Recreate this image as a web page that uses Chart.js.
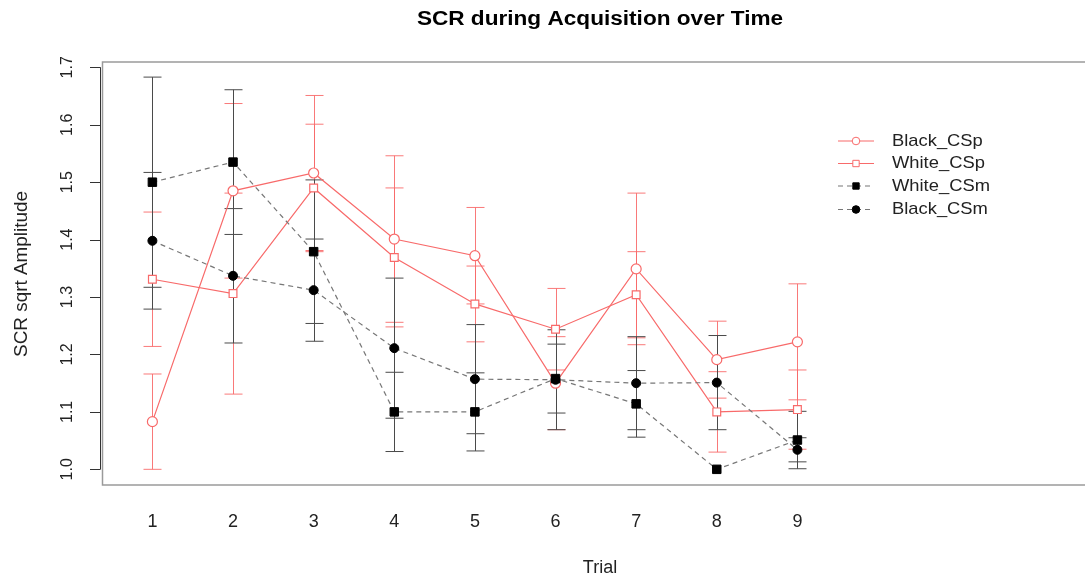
<!DOCTYPE html>
<html lang="en">
<head>
    <meta charset="UTF-8">
    <title>SCR during Acquisition over Time</title>
    <script src="https://cdn.jsdelivr.net/npm/chart.js"></script>
    <style>
        body { margin: 0; background: #fff; }
        #wrap { width: 1085px; height: 577px; }
    </style>
</head>
<body>
    <div id="wrap"><canvas id="myChart"></canvas></div>

    <script>
        const trials = [1, 2, 3, 4, 5, 6, 7, 8, 9];
        const yTicks = [1.0, 1.1, 1.2, 1.3, 1.4, 1.5, 1.6, 1.7];

        const blackCSp    = [1.083, 1.485, 1.516, 1.401, 1.372, 1.150, 1.349, 1.191, 1.222];
        const blackCSpErr = [0.083, 0.152, 0.135, 0.145, 0.084, 0.081, 0.132, 0.067, 0.101];
        const whiteCSp    = [1.331, 1.306, 1.490, 1.369, 1.288, 1.244, 1.304, 1.100, 1.104];
        const whiteCSpErr = [0.117, 0.175, 0.111, 0.121, 0.066, 0.071, 0.075, 0.070, 0.069];
        const whiteCSm    = [1.500, 1.535, 1.379, 1.100, 1.100, 1.158, 1.114, 1.000, 1.051];
        const whiteCSmErr = [0.183, 0.126, 0.125, 0.069, 0.068, 0.060, 0.058, 0.000, 0.050];
        const blackCSm    = [1.398, 1.337, 1.312, 1.211, 1.157, 1.156, 1.150, 1.151, 1.034];
        const blackCSmErr = [0.119, 0.117, 0.089, 0.122, 0.095, 0.087, 0.081, 0.082, 0.021];

        const RED = "#f86a6a";
        const RED_BAR = "rgba(248, 106, 106, 0.9)";
        const DARK_BAR = "#4a4a4a";
        const FONT = "'Liberation Sans', Arial, sans-serif";

        const toPts = arr => trials.map((t, i) => ({ x: t, y: arr[i] }));

        const datasets = [
            {
                label: "Black_CSp", data: toPts(blackCSp), err: blackCSpErr, barColor: RED_BAR,
                borderColor: RED, borderWidth: 1.2, pointStyle: "circle", pointRadius: 5,
                pointBackgroundColor: "#fff", pointBorderColor: RED, pointBorderWidth: 1.2, order: 2
            },
            {
                label: "White_CSp", data: toPts(whiteCSp), err: whiteCSpErr, barColor: RED_BAR,
                borderColor: RED, borderWidth: 1.2, pointStyle: "rect", pointRadius: 5.5,
                pointBackgroundColor: "#fff", pointBorderColor: RED, pointBorderWidth: 1.2, order: 2
            },
            {
                label: "White_CSm", data: toPts(whiteCSm), err: whiteCSmErr, barColor: DARK_BAR,
                borderColor: "#777", borderWidth: 1.2, borderDash: [5, 4], pointStyle: "rect", pointRadius: 6,
                pointBackgroundColor: "#000", pointBorderColor: "#000", pointBorderWidth: 1, order: 1
            },
            {
                label: "Black_CSm", data: toPts(blackCSm), err: blackCSmErr, barColor: DARK_BAR,
                borderColor: "#777", borderWidth: 1.2, borderDash: [5, 4], pointStyle: "circle", pointRadius: 4.5,
                pointBackgroundColor: "#000", pointBorderColor: "#000", pointBorderWidth: 1, order: 1
            }
        ];

        // text drawn a little wider than the font, like the stretched R export
        function wideText(ctx, text, x, y, sx) {
            ctx.save();
            ctx.translate(x, y);
            ctx.scale(sx, 1);
            ctx.fillText(text, 0, 0);
            ctx.restore();
        }

        // error bars, box, axes, legend and titles drawn in R base-graphics style
        const rStyle = {
            id: "rStyle",
            beforeDatasetsDraw(chart) {
                const ctx = chart.ctx, xs = chart.scales.x, ys = chart.scales.y;
                ctx.save();
                chart.data.datasets.forEach(ds => {
                    ctx.strokeStyle = ds.barColor;
                    ctx.lineWidth = 1;
                    ds.data.forEach((p, i) => {
                        const e = ds.err[i];
                        if (!e) return;
                        const x = Math.round(xs.getPixelForValue(p.x)) + 0.5;
                        const top = ys.getPixelForValue(p.y + e);
                        const bot = ys.getPixelForValue(p.y - e);
                        ctx.beginPath();
                        ctx.moveTo(x, top); ctx.lineTo(x, bot);
                        ctx.moveTo(x - 9, top); ctx.lineTo(x + 9, top);
                        ctx.moveTo(x - 9, bot); ctx.lineTo(x + 9, bot);
                        ctx.stroke();
                    });
                });
                ctx.restore();
            },
            afterDraw(chart) {
                const ctx = chart.ctx, xs = chart.scales.x, ys = chart.scales.y;
                const a = chart.chartArea;
                ctx.save();
                // box
                ctx.strokeStyle = "#9a9a9a";
                ctx.lineWidth = 1.5;
                ctx.strokeRect(a.left + 0.5, a.top, a.right - a.left + 10, a.bottom - a.top);

                // y axis
                ctx.strokeStyle = "#333";
                ctx.lineWidth = 1;
                const yTop = ys.getPixelForValue(yTicks[yTicks.length - 1]);
                const yBot = ys.getPixelForValue(yTicks[0]);
                ctx.beginPath();
                ctx.moveTo(100.5, yTop); ctx.lineTo(100.5, yBot);
                yTicks.forEach(v => {
                    const y = Math.round(ys.getPixelForValue(v)) + 0.5;
                    ctx.moveTo(90, y); ctx.lineTo(100.5, y);
                });
                ctx.stroke();

                ctx.fillStyle = "#222";
                ctx.font = "16px " + FONT;
                ctx.textAlign = "center";
                ctx.textBaseline = "middle";
                yTicks.forEach(v => {
                    const y = ys.getPixelForValue(v);
                    ctx.save();
                    ctx.translate(68, y);
                    ctx.rotate(-Math.PI / 2);
                    ctx.fillText(v.toFixed(1), 0, 0);
                    ctx.restore();
                });

                // x tick labels
                ctx.font = "18px " + FONT;
                trials.forEach(t => {
                    ctx.fillText(String(t), xs.getPixelForValue(t), 522);
                });

                // axis titles
                ctx.fillText("Trial", 600, 568);
                ctx.save();
                ctx.translate(22, 274);
                ctx.rotate(-Math.PI / 2);
                ctx.font = "18px " + FONT;
                wideText(ctx, "SCR sqrt Amplitude", 0, 0, 1.05);
                ctx.restore();

                // main title
                ctx.fillStyle = "#000";
                ctx.font = "bold 20px " + FONT;
                wideText(ctx, "SCR during Acquisition over Time", 600, 19, 1.13);

                // legend
                const rows = [141, 163.5, 186, 209.5];
                chart.data.datasets.forEach((ds, i) => {
                    const y = rows[i];
                    ctx.strokeStyle = ds.borderColor;
                    ctx.lineWidth = 1.2;
                    ctx.setLineDash(ds.borderDash || []);
                    ctx.beginPath();
                    ctx.moveTo(838, y); ctx.lineTo(874, y);
                    ctx.stroke();
                    ctx.setLineDash([]);
                    ctx.fillStyle = ds.pointBackgroundColor;
                    ctx.strokeStyle = ds.pointBorderColor;
                    ctx.lineWidth = 1;
                    Chart.helpers.drawPoint(ctx, {
                        pointStyle: ds.pointStyle,
                        radius: ds.pointStyle === "rect" ? 4.5 : 3.8,
                        borderWidth: 1
                    }, 856, y);
                    ctx.fillStyle = "#222";
                    ctx.font = "17px " + FONT;
                    ctx.textAlign = "left";
                    wideText(ctx, ds.label, 892, y, 1.08);
                });
                ctx.restore();
            }
        };

        new Chart(document.getElementById("myChart"), {
            type: "line",
            data: { datasets: datasets },
            options: {
                responsive: true,
                maintainAspectRatio: false,
                animation: false,
                layout: { padding: { top: 62, right: 0, left: 0, bottom: 0 } },
                plugins: {
                    legend: { display: false },
                    title: { display: false },
                    tooltip: { enabled: false }
                },
                scales: {
                    x: {
                        type: "linear",
                        min: 0.375,
                        max: 12.48,
                        grid: { display: false },
                        border: { display: false },
                        ticks: { display: false },
                        afterFit(scale) { scale.height = 92; }
                    },
                    y: {
                        type: "linear",
                        min: 0.9727,
                        max: 1.7093,
                        grid: { display: false },
                        border: { display: false },
                        ticks: { display: false },
                        afterFit(scale) { scale.width = 102; }
                    }
                }
            },
            plugins: [rStyle]
        });
    </script>
</body>
</html>
